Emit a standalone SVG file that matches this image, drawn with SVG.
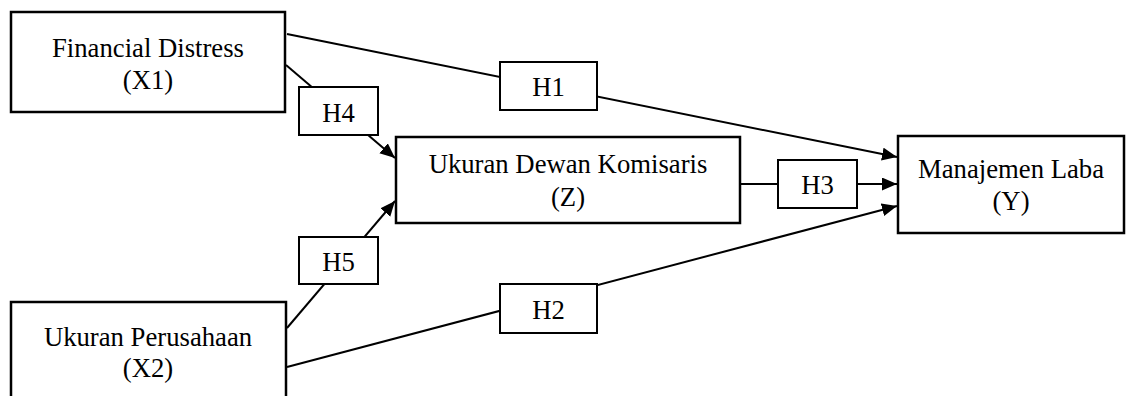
<svg xmlns="http://www.w3.org/2000/svg" width="1126" height="396" viewBox="0 0 1126 396">
  <style>
    .node { fill: #fff; stroke: #000; stroke-width: 2.5; }
    .lbl { fill: #fff; stroke: #000; stroke-width: 2; }
    .edge { fill: none; stroke: #000; stroke-width: 2; }
    text { font-family: "Liberation Serif", "Times New Roman", serif; font-size: 26.7px; fill: #000; text-anchor: middle; }
  </style>
  <defs>
    <marker id="arrow" markerUnits="userSpaceOnUse" markerWidth="16" markerHeight="14" refX="15" refY="6.5" orient="auto">
      <path d="M0,0 L15,6.5 L0,13 z" fill="#000"/>
    </marker>
  </defs>
  <rect width="1126" height="396" fill="#fff"/>
  <g id="connectors">
    <line class="edge" x1="287" y1="34" x2="897" y2="157" marker-end="url(#arrow)"/>
    <line class="edge" x1="286" y1="65" x2="395" y2="158" marker-end="url(#arrow)"/>
    <line class="edge" x1="287" y1="328" x2="395" y2="201" marker-end="url(#arrow)"/>
    <line class="edge" x1="287" y1="367" x2="897" y2="206" marker-end="url(#arrow)"/>
    <line class="edge" x1="740" y1="184" x2="897" y2="184" marker-end="url(#arrow)"/>
  </g>
  <g id="label-H1"><rect class="lbl" x="500" y="62" width="97" height="48"/><text x="548.5" y="96">H1</text></g>
  <g id="label-H4"><rect class="lbl" x="299" y="87" width="79" height="48"/><text x="338.5" y="122">H4</text></g>
  <g id="label-H3"><rect class="lbl" x="778" y="160" width="79" height="48"/><text x="817.5" y="194">H3</text></g>
  <g id="label-H5"><rect class="lbl" x="299" y="237" width="79" height="47"/><text x="338.5" y="271">H5</text></g>
  <g id="label-H2"><rect class="lbl" x="500" y="284" width="97" height="49"/><text x="548.5" y="319">H2</text></g>
  <g id="node-X1"><rect class="node" x="11" y="12" width="274" height="100"/><text x="148" y="57">Financial Distress</text><text x="148" y="89">(X1)</text></g>
  <g id="node-Z"><rect class="node" x="396" y="137" width="344" height="86"/><text x="568" y="173">Ukuran Dewan Komisaris</text><text x="568" y="206">(Z)</text></g>
  <g id="node-Y"><rect class="node" x="898" y="136" width="226" height="97"/><text x="1011" y="178">Manajemen Laba</text><text x="1011" y="210">(Y)</text></g>
  <g id="node-X2"><rect class="node" x="11" y="302" width="275" height="110"/><text x="148" y="346">Ukuran Perusahaan</text><text x="148" y="377">(X2)</text></g>
</svg>
